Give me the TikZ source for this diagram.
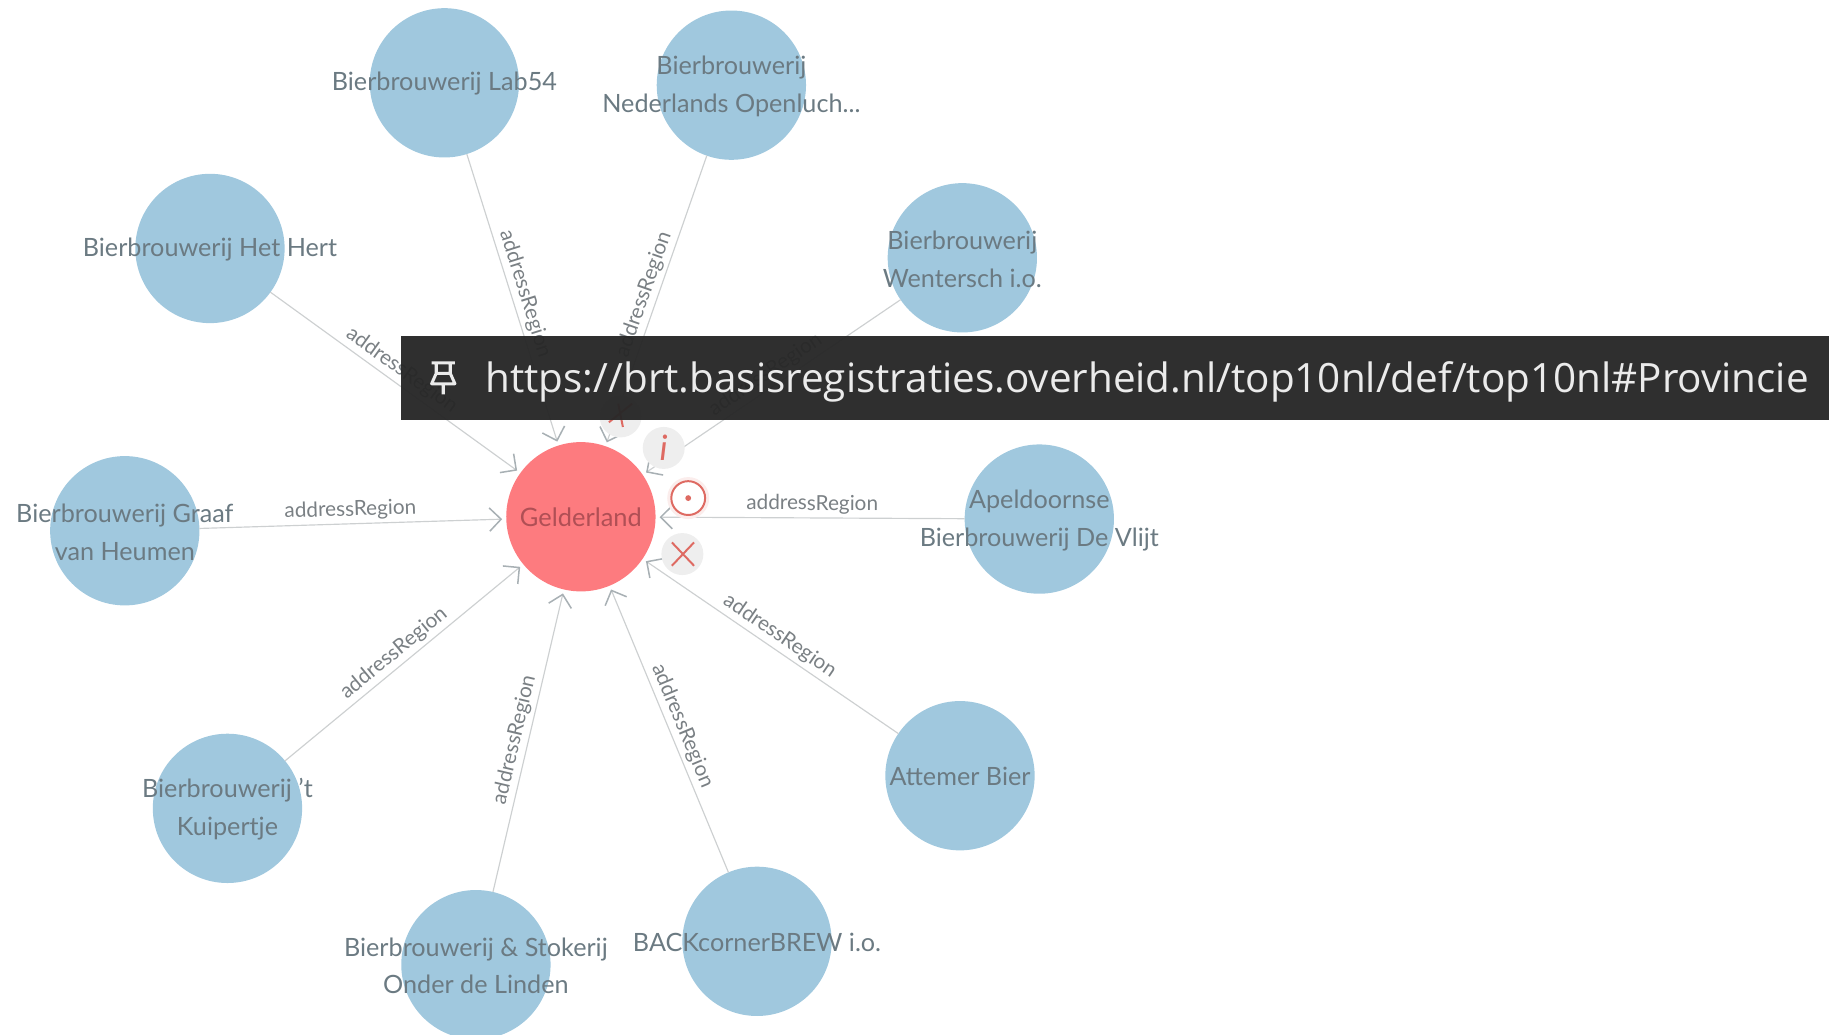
\documentclass[tikz,border=0pt]{standalone}
\usepackage{fontspec}
\setmainfont{Lato}
\newfontfamily\urlfont{Open Sans}
\usetikzlibrary{arrows.meta}
\definecolor{nodeblue}{HTML}{A0C8DE}
\definecolor{nodered}{HTML}{FD7B7F}
\definecolor{txtgrey}{HTML}{6B7A82}
\definecolor{edgetxt}{HTML}{7A8084}
\definecolor{gtxt}{HTML}{B04F55}
\definecolor{edgegrey}{HTML}{CDD0D1}
\definecolor{tipgrey}{HTML}{A8B0B4}
\definecolor{iconred}{HTML}{DE6A62}
\definecolor{btngrey}{HTML}{EEEEEE}
\definecolor{bardark}{HTML}{272727}
\tikzset{
  bnode/.style={circle,fill=nodeblue,minimum size=128pt,inner sep=0pt,outer sep=0pt},
  blabel/.style={text=txtgrey,font=\fontsize{21.6}{32.5}\selectfont,align=center,inner sep=0pt,yshift=-1pt},
  gnode/.style={circle,fill=nodered,minimum size=128pt,inner sep=0pt,outer sep=3.5pt,
    text=gtxt,font=\fontsize{21.8}{32}\selectfont},
  link/.style={draw=edgegrey,line width=1pt,-{Straight Barb[length=10pt,width=20pt,line width=1.3pt,color=tipgrey]}},
  elabel/.style={midway,sloped,above,inner sep=3pt,text=edgetxt,font=\fontsize{17.8}{20}\selectfont},
  btn/.style={circle,fill=btngrey,minimum size=36pt,inner sep=0pt},
  icon/.style={draw=iconred,line width=1.7pt},
}
\begin{document}
\begin{tikzpicture}[x=1pt,y=-1pt]
\useasboundingbox (0,0) rectangle (1568,887);
\node[gnode] (g) at (498,443) {Gelderland};
\node[bnode,label={[blabel]center:Bierbrouwerij Lab54}] (lab) at (381,71) {};
\node[bnode,label={[blabel]center:Bierbrouwerij\\Nederlands Openluch...}] (ned) at (627,73) {};
\node[bnode,label={[blabel]center:Bierbrouwerij\\Wentersch i.o.}] (wen) at (825,221) {};
\node[bnode,label={[blabel]center:Bierbrouwerij Het Hert}] (her) at (180,213) {};
\node[bnode,label={[blabel]center:Bierbrouwerij Graaf\\van Heumen}] (gra) at (107,455) {};
\node[bnode,label={[blabel]center:Apeldoornse\\Bierbrouwerij De Vlijt}] (ape) at (891,445) {};
\node[bnode,label={[blabel]center:Bierbrouwerij 't\\Kuipertje}] (kui) at (195,693) {};
\node[bnode,label={[blabel]center:Bierbrouwerij \& Stokerij\\Onder de Linden}] (lin) at (408,827) {};
\node[bnode,label={[blabel]center:BACKcornerBREW i.o.}] (bac) at (649,807) {};
\node[bnode,label={[blabel]center:Attemer Bier}] (att) at (823,665) {};
\foreach \n in {lab,ned,wen,her,gra,ape,kui,lin,bac,att}
  \draw[link] (\n) -- node[elabel] {addressRegion} (g);
% action buttons
\node[btn] (bexp) at (532,357) {};
\node[btn] (binfo) at (569,384) {};
\node[btn] (bdel) at (585,475) {};
\node[text=iconred,font=\fontsize{30}{30}\selectfont\itshape] (iinfo) at (569,384) {i};
\node[circle,fill=iconred!12,minimum size=36pt,inner sep=0pt] (bhalo) at (590,427) {};
\node[circle,draw=iconred,line width=1.7pt,fill=white,minimum size=29pt,inner sep=0pt] (btar) at (590,427) {};
\node[circle,fill=iconred,minimum size=5pt,inner sep=0pt] (idot) at (btar) {};
\coordinate (d1) at (576,465); \coordinate (d2) at (595,485);
\coordinate (d3) at (595,465); \coordinate (d4) at (576,485);
\draw[icon] (d1) -- (d2) (d3) -- (d4);
\coordinate (e1) at (522,362); \coordinate (e2) at (542,346);
\coordinate (e3) at (530,346); \coordinate (e4) at (534,366);
\draw[icon] (e1) -- (e2) (e3) -- (e4);
% tooltip bar
\fill[bardark,fill opacity=.96] (344,288) rectangle (1568,360);
\node[anchor=west,text=white!92!black,inner sep=0pt,font=\urlfont\fontsize{34.65}{40}\selectfont] (url) at (416,327)
  {https://brt.basisregistraties.overheid.nl/top10nl/def/top10nl\#Provincie};
% pin icon
\coordinate (p0) at (380,324);
\draw[white!92!black,line width=2.6pt,line join=round]
  ([shift={(-10,-13)}]p0) -- ([shift={(10,-13)}]p0)
  ([shift={(-6,-13)}]p0) -- ([shift={(-6,-4)}]p0) -- ([shift={(6,-4)}]p0) -- ([shift={(6,-13)}]p0)
  ([shift={(-6,-4)}]p0) -- ([shift={(-10,5)}]p0) -- ([shift={(10,5)}]p0) -- ([shift={(6,-4)}]p0)
  ([shift={(0,5)}]p0) -- ([shift={(0,14)}]p0);
\end{tikzpicture}
\end{document}
